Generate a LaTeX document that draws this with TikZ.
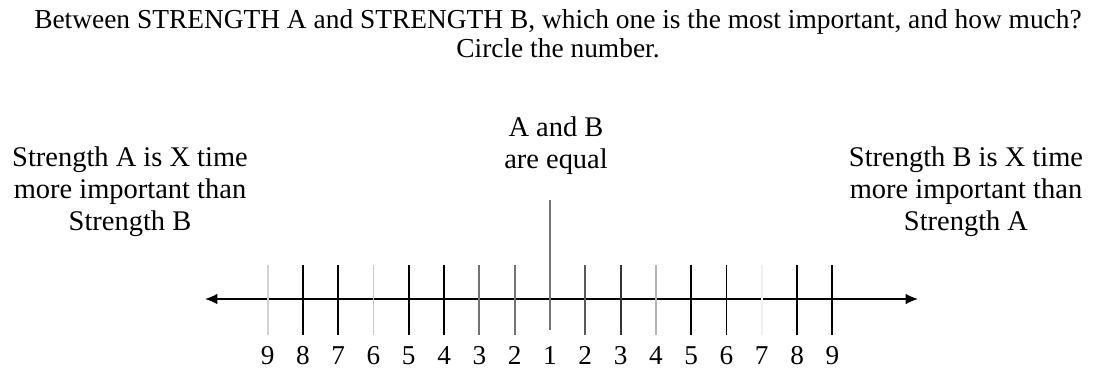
\documentclass[tikz,border=0pt]{standalone}
\usepackage{fontspec}
\setmainfont{Liberation Serif}
\usetikzlibrary{arrows.meta,positioning}

\begin{document}
\begin{tikzpicture}[x=0.02cm, y=-0.02cm,
  txt/.style={align=center, font=\fontsize{16.2}{18.3}\selectfont, inner sep=0pt},
  head/.style={align=center, font=\fontsize{15.6}{16.5}\selectfont, inner sep=0pt},
  num/.style={font=\fontsize{15.5}{18}\selectfont, inner sep=0pt, anchor=base},
  tick/.style={line width=1.1pt},
  axis/.style={{Latex[length=7pt,width=6pt]}-{Latex[length=7pt,width=6pt]}, line width=0.8pt}]
\useasboundingbox[fill=white] (0,0) rectangle (1100,370);

% question
\node (title) [head] at (558,34) {Between STRENGTH A and STRENGTH B, which one is the most important, and how much?\\Circle the number.};

% end labels
\node (leftlbl) [txt] at (130,192) {Strength A is X time\\more important than\\Strength B};
\node (rightlbl) [txt] at (966,192) {Strength B is X time\\more important than\\Strength A};
\node (equal) [txt] at (556,146) {A and B\\are equal};

% axis
\coordinate (left) at (205,299);
\coordinate (right) at (918,299);
\draw[axis] (left) -- (right);

% ticks and numbers, shade = how dark the tick is
\foreach \k/\n/\shade in {-8/9/18, -7/8/100, -6/7/100, -5/6/22, -4/5/100, -3/4/100, -2/3/55, -1/2/55,
                          1/2/65, 2/3/80, 3/4/30, 4/5/100, 5/6/100, 6/7/6, 7/8/100, 8/9/100} {
  \draw[tick, black!\shade] (550+35.3*\k,265) -- (550+35.3*\k,335);
  \node (num\k) [num] at (550+35.3*\k,364) {\n};
}
\draw[tick, black!55] (550,200) -- (550,330);
\node (num0) [num] at (550,364) {1};

\end{tikzpicture}
\end{document}
